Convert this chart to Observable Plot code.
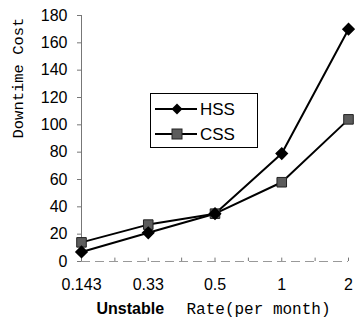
<!DOCTYPE html>
<html>
<head>
<meta charset="utf-8">
<script src="https://cdn.jsdelivr.net/npm/d3@7"></script>
<script src="https://cdn.jsdelivr.net/npm/@observablehq/plot@0.6"></script>
<style>
  html, body { margin: 0; padding: 0; background: #fff; }
  #wrap { position: relative; width: 355px; height: 328px; }
  #legend { position: absolute; left: 150px; top: 93px; width: 106px; height: 53px;
            border: 1px solid #000; background: #fff; }
</style>
</head>
<body>
<div id="wrap">
  <div id="chart"></div>
  <div id="legend"></div>
</div>
<script>
// ---- data ----
const categories = ["0.143", "0.33", "0.5", "1", "2"];
const hss = [7, 21, 35, 79, 170];
const css = [14, 27, 35, 58, 104];
const seriesNames = ["HSS", "CSS"];
const yTicks = [0, 20, 40, 60, 80, 100, 120, 140, 160, 180];

const rows = [];
categories.forEach((c, i) => {
  rows.push({i, cat: c, series: "HSS", value: hss[i]});
  rows.push({i, cat: c, series: "CSS", value: css[i]});
});
const hssRows = rows.filter(d => d.series === "HSS");
const cssRows = rows.filter(d => d.series === "CSS");
const minorTicks = d3.range(0, categories.length - 0.5 + 0.01, 0.5);

const monoFont = "'Liberation Mono', 'DejaVu Sans Mono', monospace";
const sansFont = "'Liberation Sans', Arial, sans-serif";

const chart = Plot.plot({
  width: 355,
  height: 328,
  marginLeft: 81,
  marginRight: 7,
  marginTop: 15,
  marginBottom: 67,
  style: {fontFamily: sansFont, fontSize: "16px", color: "#000", background: "#fff"},
  x: {type: "linear", domain: [0, categories.length - 1]},
  y: {domain: [0, 180]},
  marks: [
    // y-axis line
    Plot.ruleX([0], {y1: 0, y2: 180, stroke: "#777", strokeWidth: 1}),
    Plot.axisY({ticks: yTicks, tickSize: 4, tickPadding: 10, stroke: "#777", fill: "#000",
                fontSize: 16, label: null}),
    // x baseline (dashed) with small upward ticks
    Plot.ruleY([0], {x1: 0, x2: categories.length - 1, stroke: "#999", strokeDasharray: "9,5", strokeWidth: 1}),
    Plot.ruleX(minorTicks, {x: d => d, y1: 0, y2: 2.5, stroke: "#777", strokeWidth: 1}),
    Plot.axisX({ticks: d3.range(categories.length), tickFormat: i => categories[i], tickSize: 0,
                tickPadding: 17, fontSize: 16, label: null}),
    // series
    Plot.line(hssRows, {x: "i", y: "value", stroke: "#000", strokeWidth: 2}),
    Plot.line(cssRows, {x: "i", y: "value", stroke: "#000", strokeWidth: 2}),
    Plot.dot(cssRows, {x: "i", y: "value", symbol: "square", r: 5.4, fill: "#5c5c5c", stroke: "#222", strokeWidth: 1}),
    Plot.dot(hssRows, {x: "i", y: "value", symbol: "diamond2", r: 5, fill: "#000", stroke: "#000"}),
    // axis titles
    Plot.text(["Downtime Cost"], {frameAnchor: "left", rotate: -90, dx: -63, fontFamily: monoFont, fontSize: 15.5, fill: "#000"}),
    Plot.text(["Unstable"], {frameAnchor: "bottom-left", textAnchor: "start", dx: 15, dy: 52, fontWeight: "bold", fontSize: 16, fill: "#000"}),
    Plot.text(["Rate(per month)"], {frameAnchor: "bottom-left", textAnchor: "start", dx: 105, dy: 52, fontFamily: monoFont, fontSize: 16, fill: "#000"})
  ]
});
document.getElementById("chart").appendChild(chart);

// ---- legend ----
const lg = d3.select("#legend").append("svg").attr("width", 106).attr("height", 53);
seriesNames.forEach((name, k) => {
  const g = lg.append("g").attr("transform", `translate(0, ${15 + k * 25})`);
  g.append("line").attr("x1", 4).attr("x2", 46).attr("y1", 0).attr("y2", 0)
    .attr("stroke", "#000").attr("stroke-width", 2);
  if (name === "HSS") {
    g.append("path").attr("d", d3.symbol(d3.symbolDiamond2, 78)()).attr("transform", "translate(26,0)")
      .attr("fill", "#000");
  } else {
    g.append("rect").attr("x", 21).attr("y", -5).attr("width", 10).attr("height", 10)
      .attr("fill", "#5c5c5c").attr("stroke", "#222");
  }
  g.append("text").attr("x", 49).attr("y", 0).attr("dy", "0.35em")
    .attr("font-family", sansFont).attr("font-size", 17).text(name);
});
</script>
</body>
</html>
